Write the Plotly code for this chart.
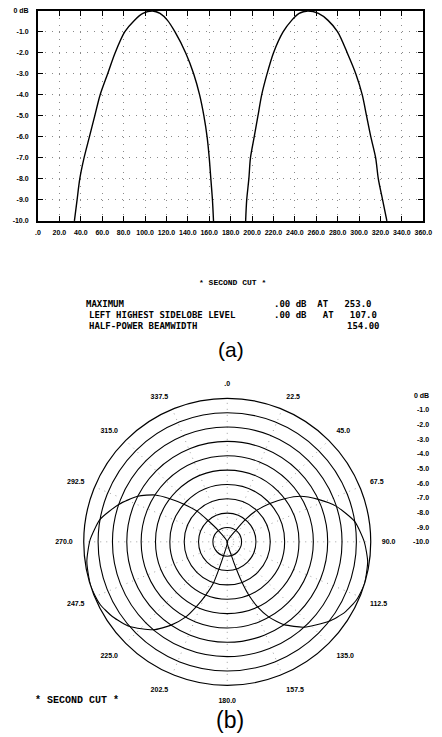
import plotly.graph_objects as go

# ---------------- data ----------------
# Rectangular cut (a)
X_TICKS = list(range(0, 361, 20))
X_TICKTEXT = [".0"] + [f"{v:.1f}" for v in X_TICKS[1:]]
Y_TICKS = [0, -1, -2, -3, -4, -5, -6, -7, -8, -9, -10]
Y_TICKTEXT = ["0 dB", "-1.0", "-2.0", "-3.0", "-4.0", "-5.0", "-6.0", "-7.0", "-8.0", "-9.0", "-10.0"]

LOBE1_DEG = [34, 36.5, 39, 43, 48, 53, 58, 65, 72, 81, 90, 98, 107, 114, 121, 128, 138, 145.5, 151, 155, 158, 160, 161.5, 163, 164]
LOBE1_DB = [-10, -9, -8, -7, -6, -5, -4, -3, -2, -1, -0.45, -0.12, 0, -0.12, -0.45, -1, -2, -3, -4, -5, -6, -7, -8, -9, -10]
LOBE2_DEG = [194, 195, 197, 198.5, 202, 205.5, 209, 214, 220, 229, 237, 244, 252, 262, 271, 280, 289, 297, 303, 307, 311, 315.5, 318, 322, 326]
LOBE2_DB = [-10, -9, -8, -7, -6, -5, -4, -3, -2, -1, -0.45, -0.12, 0, -0.12, -0.45, -1, -2, -3, -4, -5, -6, -7, -8, -9, -10]

# summary table
CUT_TITLE = "* SECOND CUT *"
MAX_LEVEL_DB = 0.00
MAX_AT_DEG = 253.0
SIDELOBE_LEVEL_DB = 0.00
SIDELOBE_AT_DEG = 107.0
HALF_POWER_BW = 154.00

# Polar cut (b)
POLAR_ANGLES = [0, 22.5, 45, 67.5, 90, 112.5, 135, 157.5, 180, 202.5, 225, 247.5, 270, 292.5, 315, 337.5]
POLAR_ANGLE_TEXT = [".0", "22.5", "45.0", "67.5", "90.0", "112.5", "135.0", "157.5", "180.0",
                    "202.5", "225.0", "247.5", "270.0", "292.5", "315.0", "337.5"]
RING_LEVELS = [-9, -8, -7, -6, -5, -4, -3, -2, -1]
LEVEL_TICKS = Y_TICKS
LEVEL_TICKTEXT = Y_TICKTEXT

W, H = 442, 737


def px_x(p):
    return p / W


def px_y(p):
    return 1 - p / H


TICKFONT = dict(family="Liberation Sans", size=7, color="black", weight="bold")

fig = go.Figure()

# top rectangular plot
for xs, ys in ((LOBE1_DEG, LOBE1_DB), (LOBE2_DEG, LOBE2_DB)):
    fig.add_trace(go.Scatter(x=xs, y=ys, mode="lines", line=dict(color="black", width=1.4, shape="spline", smoothing=0.8),
                             xaxis="x", yaxis="y", showlegend=False, hoverinfo="skip"))

# polar plot
for th, rr in ((LOBE1_DEG, LOBE1_DB), (LOBE2_DEG, LOBE2_DB)):
    fig.add_trace(go.Scatterpolar(theta=th, r=rr, mode="lines", line=dict(color="black", width=1.1, shape="spline", smoothing=0.6),
                                  subplot="polar", showlegend=False, hoverinfo="skip"))

# level scale next to the polar plot
fig.add_trace(go.Scatter(x=[0] * len(LEVEL_TICKS), y=LEVEL_TICKS, mode="markers", marker=dict(opacity=0),
                         xaxis="x3", yaxis="y3", showlegend=False, hoverinfo="skip"))

fig.update_layout(
    width=W, height=H, autosize=False,
    margin=dict(l=0, r=0, t=0, b=0),
    paper_bgcolor="white", plot_bgcolor="white",
    xaxis=dict(domain=[px_x(36), px_x(432)], range=[0, 360], tickmode="array", tickvals=X_TICKS, ticktext=X_TICKTEXT,
               ticks="inside", ticklen=5, tickcolor="black", mirror="ticks", showline=True, linewidth=2, linecolor="black",
               showgrid=True, gridcolor="#8a8a8a", griddash="1px,6px", gridwidth=1, zeroline=False,
               tickfont=TICKFONT, anchor="y", ticklabelstandoff=4),
    yaxis=dict(domain=[px_y(219), px_y(7)], range=[-10, 0], tickmode="array", tickvals=Y_TICKS, ticktext=Y_TICKTEXT,
               ticks="inside", ticklen=5, tickcolor="black", mirror="ticks", showline=True, linewidth=2, linecolor="black",
               showgrid=True, gridcolor="#8a8a8a", griddash="1px,6px", gridwidth=1, zeroline=False,
               tickfont=TICKFONT, anchor="x", ticklabelstandoff=6),
    xaxis3=dict(domain=[px_x(439), px_x(440)], visible=False, range=[-1, 1], anchor="y3"),
    yaxis3=dict(domain=[px_y(543), px_y(395)], range=[-10, 0], anchor="x3", side="left", tickmode="array",
                tickvals=LEVEL_TICKS, ticktext=LEVEL_TICKTEXT, showline=False, showgrid=False, zeroline=False,
                ticks="", tickfont=TICKFONT, ticklabelstandoff=0),
    polar=dict(
        domain=dict(x=[px_x(83), px_x(378)], y=[px_y(691), px_y(395)]),
        bgcolor="white",
        angularaxis=dict(rotation=90, direction="clockwise", tickmode="array", tickvals=POLAR_ANGLES,
                         ticktext=POLAR_ANGLE_TEXT, showline=True, linecolor="black", linewidth=1.2,
                         showgrid=True, gridcolor="#a0a0a0", griddash="1px,5px", gridwidth=1,
                         ticks="outside", ticklen=9, tickcolor="rgba(0,0,0,0)", tickfont=TICKFONT),
        radialaxis=dict(range=[-10, 0], tickmode="array", tickvals=RING_LEVELS, showticklabels=False, ticks="",
                        showline=False, showgrid=True, gridcolor="black", gridwidth=1.1),
    ),
)

MONO = "DejaVu Sans Mono"
TXT = dict(family=MONO, size=9, color="black", weight="bold")
ann = []
ann.append(dict(text=CUT_TITLE, x=px_x(236), y=px_y(281), font=dict(family="Liberation Mono", size=8, color="black", weight="bold"),
                xanchor="center", yanchor="middle"))
rows = [
    ("MAXIMUM", 83, f"{MAX_LEVEL_DB:.2f}".lstrip("0") + " dB  AT   " + f"{MAX_AT_DEG:.1f}", 303),
    ("LEFT HIGHEST SIDELOBE LEVEL", 86, f"{SIDELOBE_LEVEL_DB:.2f}".lstrip("0") + " dB   AT   " + f"{SIDELOBE_AT_DEG:.1f}", 314),
]
for label, lx, val, yy in rows:
    ann.append(dict(text=label, x=px_x(lx), y=px_y(yy), xanchor="left", yanchor="middle", font=TXT))
    ann.append(dict(text=val, x=px_x(277), y=px_y(yy), xanchor="left", yanchor="middle", font=TXT))
ann.append(dict(text="HALF-POWER BEAMWIDTH", x=px_x(86), y=px_y(325), xanchor="left", yanchor="middle", font=TXT))
ann.append(dict(text=f"{HALF_POWER_BW:.2f}", x=px_x(390), y=px_y(325), xanchor="right", yanchor="middle", font=TXT))
ann.append(dict(text="(a)", x=px_x(234), y=px_y(349), xanchor="center", yanchor="middle",
                font=dict(family="Liberation Sans", size=21, color="black")))
ann.append(dict(text=CUT_TITLE, x=px_x(76), y=px_y(703), xanchor="center", yanchor="middle",
                font=dict(family="Liberation Mono", size=10, color="black", weight="bold")))
ann.append(dict(text="(b)", x=px_x(233), y=px_y(723), xanchor="center", yanchor="middle",
                font=dict(family="Liberation Sans", size=23, color="black")))
for a in ann:
    a.update(xref="paper", yref="paper", showarrow=False)
fig.update_layout(annotations=ann)

fig.write_html("out.html", config={"displayModeBar": False, "staticPlot": True},
               post_script="document.body.style.margin='0';document.body.style.overflow='hidden';")
